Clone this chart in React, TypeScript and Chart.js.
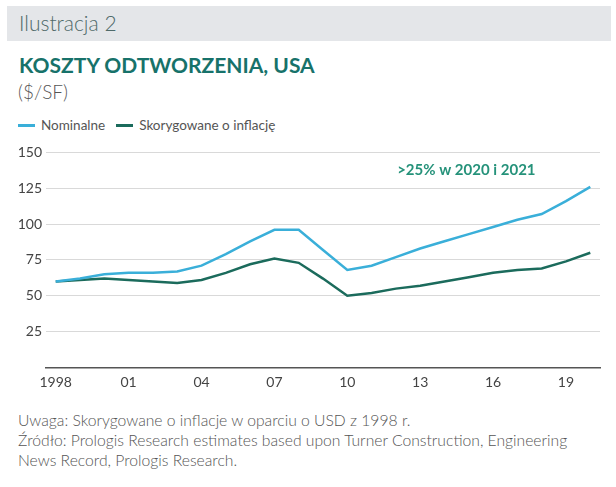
import React, { useEffect, useRef } from "react";
import { Chart, registerables } from "chart.js";

Chart.register(...registerables);

const years = [1998, 1999, 2000, 2001, 2002, 2003, 2004, 2005, 2006, 2007, 2008, 2009, 2010, 2011, 2012, 2013, 2014, 2015, 2016, 2017, 2018, 2019, 2020];
const nominal = [60, 62, 65, 66, 66, 67, 71, 79, 88, 96, 96, 82, 68, 71, 77, 83, 88, 93, 98, 103, 107, 116, 126];
const adjusted = [60, 61, 62, 61, 60, 59, 61, 66, 72, 76, 73, 62, 50, 52, 55, 57, 60, 63, 66, 68, 69, 74, 80];
const xTicks = [1998, 2001, 2004, 2007, 2010, 2013, 2016, 2019];
const yTicks = [0, 25, 50, 75, 100, 125, 150];
const seriesNames = ["Nominalne", "Skorygowane o inflację"];
const annotationText = ">25% w 2020 i 2021";
const annotationAt = { x: 2014.9, y: 134 };

const COLORS = ["#3aafd9", "#1b6b5c"];
const FONT = "Lato, 'Noto Sans', sans-serif";

export default function App() {
  const ref = useRef<HTMLCanvasElement | null>(null);

  useEffect(() => {
    if (!ref.current) return;
    const annot = {
      id: "annot",
      afterDatasetsDraw(chart: any) {
        const ctx = chart.ctx;
        const x = chart.scales.x.getPixelForValue(annotationAt.x);
        const y = chart.scales.y.getPixelForValue(annotationAt.y);
        ctx.save();
        ctx.font = `bold 15px ${FONT}`;
        ctx.fillStyle = "#25927a";
        ctx.textAlign = "center";
        ctx.textBaseline = "alphabetic";
        ctx.fillText(annotationText, x, y);
        ctx.restore();
      },
    };
    const chart = new Chart(ref.current, {
      type: "line",
      data: {
        datasets: [
          {
            label: seriesNames[0],
            data: years.map((yr, i) => ({ x: yr, y: nominal[i] })),
            borderColor: COLORS[0],
            backgroundColor: COLORS[0],
            borderWidth: 2.5,
            pointRadius: 0,
            tension: 0,
          },
          {
            label: seriesNames[1],
            data: years.map((yr, i) => ({ x: yr, y: adjusted[i] })),
            borderColor: COLORS[1],
            backgroundColor: COLORS[1],
            borderWidth: 2.5,
            pointRadius: 0,
            tension: 0,
          },
        ],
      },
      options: {
        animation: false,
        responsive: false,
        maintainAspectRatio: false,
        layout: { padding: { top: 11, right: 16, left: 0, bottom: 0 } },
        plugins: { legend: { display: false }, tooltip: { enabled: false } },
        scales: {
          x: {
            type: "linear",
            min: 1997.6,
            max: 2020.4,
            afterBuildTicks: (s: any) => {
              s.ticks = xTicks.map((v) => ({ value: v }));
            },
            afterFit: (s: any) => {
              s.height = 32.5;
            },
            grid: { display: false, drawTicks: false },
            border: { display: true, color: "#555", width: 1.5 },
            ticks: {
              padding: 7,
              maxRotation: 0,
              autoSkip: false,
              color: "#444",
              font: { family: FONT, size: 14 },
              callback: (v: any) => (v === 1998 ? "1998" : String(v).slice(2)),
            },
          },
          y: {
            min: 0,
            max: 150,
            afterBuildTicks: (s: any) => {
              s.ticks = yTicks.map((v) => ({ value: v }));
            },
            afterFit: (s: any) => {
              s.width = 46;
            },
            grid: { color: "#d9d9d9", drawTicks: false, lineWidth: 1 },
            border: { display: false },
            ticks: {
              padding: 4,
              color: "#444",
              font: { family: FONT, size: 14 },
              callback: (v: any) => (v === 0 ? "" : String(v)),
            },
          },
        },
      },
      plugins: [annot],
    });
    return () => chart.destroy();
  }, []);

  const txt: React.CSSProperties = { position: "absolute", fontFamily: FONT, margin: 0, whiteSpace: "nowrap" };

  return (
    <div style={{ position: "relative", width: 616, height: 487, background: "#fff", overflow: "hidden" }}>
      <style>{"body{margin:0}"}</style>
      <div style={{ position: "absolute", left: 7, top: 6, width: 604, height: 35, background: "#e4e6e9" }} />
      <div style={{ ...txt, left: 19, top: 8, fontSize: 21, fontWeight: 300, color: "#4f6a6a", lineHeight: "30px" }}>Ilustracja 2</div>
      <div style={{ ...txt, left: 19, top: 50, fontSize: 21, fontWeight: 700, color: "#17726a", lineHeight: "30px" }}>KOSZTY ODTWORZENIA, USA</div>
      <div style={{ ...txt, left: 18, top: 79, fontSize: 19, fontWeight: 300, color: "#555", lineHeight: "26px" }}>($/SF)</div>
      <div style={{ ...txt, left: 18, top: 115, fontSize: 13.5, color: "#555", lineHeight: "20px", display: "flex", alignItems: "center" }}>
        <span style={{ display: "inline-block", width: 17, height: 3, background: COLORS[0], marginRight: 6 }} />
        <span>{seriesNames[0]}</span>
        <span style={{ display: "inline-block", width: 17, height: 3, background: COLORS[1], marginLeft: 11, marginRight: 6 }} />
        <span>{seriesNames[1]}</span>
      </div>
      <canvas ref={ref} width={616} height={260} style={{ position: "absolute", left: 0, top: 140, width: 616, height: 260 }} />
      <div style={{ ...txt, left: 18, top: 410, fontSize: 15.7, fontWeight: 300, color: "#555", lineHeight: "20px" }}>
        Uwaga: Skorygowane o inflacje w oparciu o USD z 1998 r.
        <br />
        Źródło: Prologis Research estimates based upon Turner Construction, Engineering
        <br />
        News Record, Prologis Research.
      </div>
    </div>
  );
}
